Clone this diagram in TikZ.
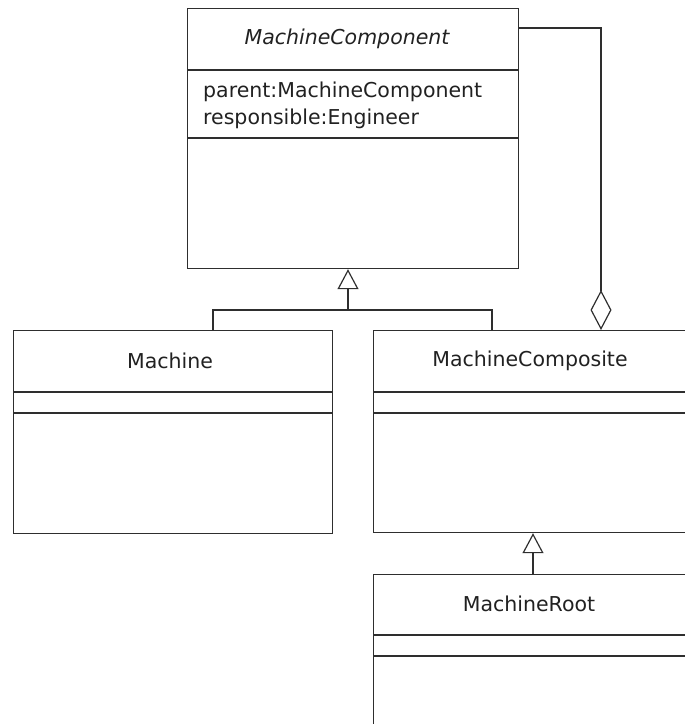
\documentclass[tikz,border=0pt]{standalone}
\usepackage{fontspec}
\setmainfont{DejaVu Sans}
\usepackage{tikz}
\usetikzlibrary{
  arrows.meta,
  positioning
}
\definecolor{umlline}{gray}{0.18}
\definecolor{umltext}{gray}{0.13}
\tikzset{
  classbox/.style = {
    draw = umlline,
    line width = 1.2pt,
    rectangle,
    anchor = north west,
    inner sep = 0pt
  },
  classname/.style = {
    text = umltext,
    inner sep = 0pt,
    font = \fontsize{20.5}{27}\selectfont
  },
  attrtext/.style = {
    classname,
    anchor = base west
  },
  divider/.style = {
    draw = umlline,
    line width = 1.2pt
  },
  inherit/.style = {
    draw = umlline,
    line width = 1.2pt,
    -{Triangle[open, length=20pt, width=21pt]}
  },
  aggregate/.style = {
    draw = umlline,
    line width = 1.2pt,
    {Diamond[open, length=40pt, width=21pt]}-
  }
}

\begin{document}
\begin{tikzpicture}[x=1pt, y=-1pt]

    \useasboundingbox (0,0) rectangle (685,724);

    % Class boxes
    \node[classbox, minimum width=331pt, minimum height=260pt] (component) at (187,8) {};
    \node[classbox, minimum width=319pt, minimum height=203pt] (machine) at (13,330) {};
    \node[classbox, minimum width=320pt, minimum height=202pt] (composite) at (373,330) {};
    \node[classbox, minimum width=320pt, minimum height=200pt] (root) at (373,574) {};

    % Compartment dividers
    \foreach \cls/\ya/\yb in {
        component/70/138,
        machine/392/413,
        composite/392/413,
        root/635/656
    } {
        \draw[divider] (\cls.west |- 0,\ya) -- (\cls.east |- 0,\ya);
        \draw[divider] (\cls.west |- 0,\yb) -- (\cls.east |- 0,\yb);
    }

    % Class names
    \node[classname, font=\fontsize{20.5}{27}\selectfont\itshape] (componentname) at (347,39) {MachineComponent};
    \node[classname] (machinename) at (170,361) {Machine};
    \node[classname] (compositename) at (530,361) {MachineComposite};
    \node[classname] (rootname) at (529,604) {MachineRoot};

    % Attributes
    \node[attrtext] (attrparent) at (203,97) {parent:MachineComponent};
    \node[attrtext] (attrengineer) at (203,124) {responsible:Engineer};

    % Generalization to MachineComponent
    \coordinate (forkL) at (213,310);
    \coordinate (fork) at (348,310);
    \coordinate (forkR) at (492,310);
    \draw[divider] (machine.north -| forkL) -- (forkL) -- (forkR) -- (composite.north -| forkR);
    \draw[inherit] (fork) -- (component.south -| fork);

    % Generalization to MachineComposite
    \coordinate (rootlink) at (533,0);
    \draw[inherit] (root.north -| rootlink) -- (composite.south -| rootlink);

    % Aggregation (composite holds components)
    \coordinate (aggbend) at (601,28);
    \draw[aggregate] (composite.north -| aggbend) -- (aggbend) -- (component.east |- aggbend);

\end{tikzpicture}
\end{document}
